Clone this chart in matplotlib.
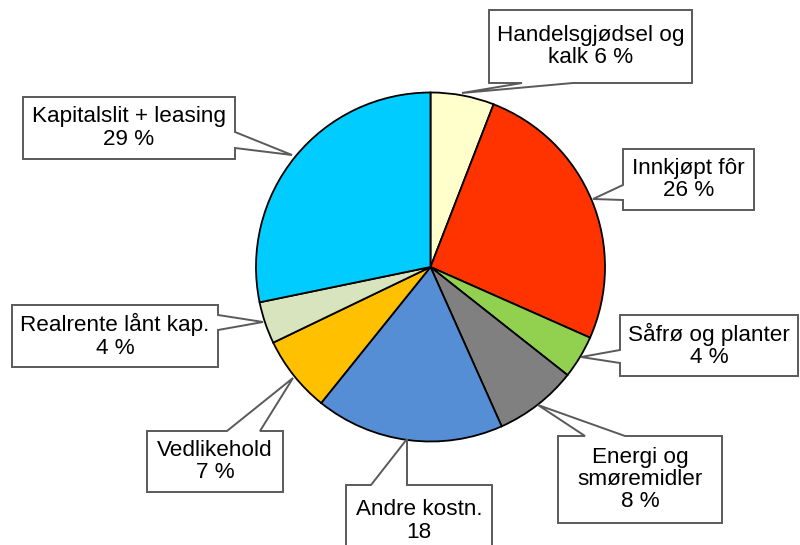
import matplotlib
matplotlib.use("Agg")
import matplotlib.pyplot as plt
from matplotlib.patches import Polygon

plt.rcParams['font.family'] = ['Liberation Sans', 'DejaVu Sans']

categories = ["Handelsgjødsel og\nkalk 6 %", "Innkjøpt fôr\n26 %", "Såfrø og planter\n4 %",
              "Energi og\nsmøremidler\n8 %", "Andre kostn.\n18", "Vedlikehold\n7 %",
              "Realrente lånt kap.\n4 %", "Kapitalslit + leasing\n29 %"]
values = [5.9, 25.8, 4.0, 7.7, 17.5, 7.1, 3.9, 28.3]
colors = ["#FFFFCC", "#FF3300", "#92D050", "#808080", "#558ED5", "#FFC000", "#D7E4BD", "#00CCFF"]

W, H = 800, 545
fig = plt.figure(figsize=(8, 5.45), dpi=100)
ax = fig.add_axes([0, 0, 1, 1])

def Y(y):
    return H - y

cx, cy, r = 430.5, 267, 174.5
ax.pie(values, colors=colors, startangle=90, counterclock=False,
       center=(cx, Y(cy)), radius=r,
       wedgeprops=dict(edgecolor="black", linewidth=1.3))

# callout layout (pixel coords, y down): box x0,y0,x1,y1, side, attach a,b, tip
callouts = [
    ((489, 10, 692, 83), "bottom", (573, 522), (462, 93)),
    ((623, 149, 754, 210), "left", (200, 185), (593, 199)),
    ((620, 315, 798, 376), "left", (363, 350), (581, 357)),
    ((558, 436, 722, 523), "top", (625, 585), (538, 405)),
    ((346, 485, 492, 560), "top", (407, 371), (407, 439)),
    ((147, 431, 283, 492), "top", (260, 227), (293, 378)),
    ((12, 305, 218, 367), "right", (315, 330), (263, 322)),
    ((23, 97, 235, 159), "right", (132, 148), (292, 155)),
]

for lab, ((x0, y0, x1, y1), side, (a, b), (tx, ty)) in zip(categories, callouts):
    if side == "bottom":
        pts = [(x0, y0), (x1, y0), (x1, y1), (a, y1), (tx, ty), (b, y1), (x0, y1)]
    elif side == "top":
        pts = [(x0, y0), (b, y0), (tx, ty), (a, y0), (x1, y0), (x1, y1), (x0, y1)]
    elif side == "left":
        pts = [(x0, y0), (x1, y0), (x1, y1), (x0, y1), (x0, a), (tx, ty), (x0, b)]
    else:  # right
        pts = [(x0, y0), (x1, y0), (x1, a), (tx, ty), (x1, b), (x1, y1), (x0, y1)]
    poly = Polygon([(px, Y(py)) for px, py in pts], closed=True, facecolor="white",
                   edgecolor="#5A5A5A", linewidth=1.4, zorder=5, joinstyle="miter")
    ax.add_patch(poly)
    yc = (y0 + y1) / 2
    if side == "top" and y1 > H:
        yc = 521
    ax.text((x0 + x1) / 2, Y(yc), lab, ha="center", va="center", fontsize=16.2,
            linespacing=1.08, color="black", zorder=6)

ax.set_xlim(0, W)
ax.set_ylim(0, H)
ax.set_aspect("auto")
ax.axis("off")
fig.savefig("out.png", dpi=100)
